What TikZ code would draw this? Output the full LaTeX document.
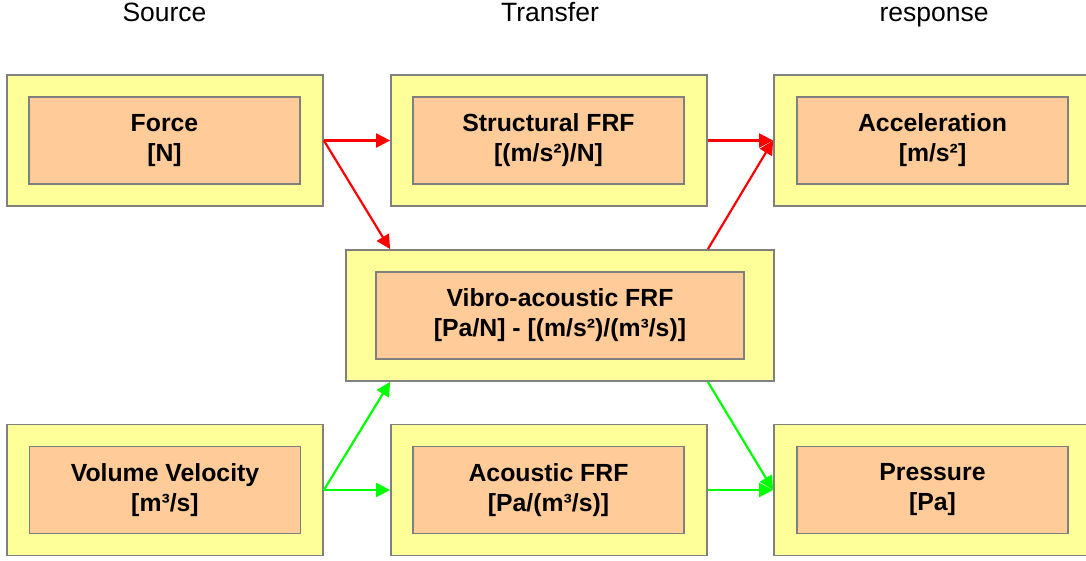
\documentclass[tikz,border=0pt]{standalone}
\usepackage{fontspec}
\setmainfont{Liberation Sans}
\usetikzlibrary{arrows.meta}
\definecolor{paleyellow}{HTML}{FFFF99}
\definecolor{peach}{HTML}{FFCC99}
\definecolor{frame}{HTML}{808080}
\begin{document}
\begin{tikzpicture}[x=1pt,y=-1pt,
  outerbox/.style={draw=frame, line width=1.8pt, fill=paleyellow, inner sep=0pt,
                   minimum width=316pt, minimum height=131pt},
  innerbox/.style={draw=frame, line width=1.8pt, fill=peach, inner sep=0pt,
                   minimum width=271pt, minimum height=87pt, align=center,
                   font=\fontsize{24.8}{30}\selectfont\bfseries},
  header/.style={anchor=base, font=\fontsize{26.5}{30}\selectfont},
  flow/.style={line width=2.2pt, -{Triangle[length=14pt,width=14pt]}},
  mech/.style={flow, draw=red, fill=red},
  acou/.style={flow, draw=green, fill=green}]
\useasboundingbox (0,0) rectangle (1086,560);

% column headings
\node[header] (hsrc) at (164.5,21) {Source};
\node[header] (htrf) at (550,21) {Transfer};
\node[header] (hrsp) at (934,21) {response};

% top row: structural path
\node[outerbox] (force)  at (165,140.5) {};
\node[innerbox] (forceT) at (164.5,140.5) {Force\\{[N]}};
\node[outerbox] (struct)  at (549,140.5) {};
\node[innerbox] (structT) at (548.5,140.5) {Structural FRF\\{[(m/s²)/N]}};
\node[outerbox] (accel)  at (932,140.5) {};
\node[innerbox] (accelT) at (932.5,140.5) {Acceleration\\{[m/s²]}};

% middle: vibro-acoustic transfer
\node[outerbox, minimum width=428pt] (vibro) at (560,315.5) {};
\node[innerbox, minimum width=368pt] (vibroT) at (560,315.5)
  {Vibro-acoustic FRF\\{[Pa/N] - [(m/s²)/(m³/s)]}};

% bottom row: acoustic path
\node[outerbox] (volvel)  at (165,490) {};
\node[innerbox] (volvelT) at (165,490) {Volume Velocity\\{[m³/s]}};
\node[outerbox] (acoustic)  at (549,490) {};
\node[innerbox] (acousticT) at (548.5,490) {Acoustic FRF\\{[Pa/(m³/s)]}};
\node[outerbox] (press)  at (932,490) {};
\node[innerbox] (pressT) at (932.5,490) {Pressure\\{[Pa]}};

% structural excitation
\draw[mech] (force.east) -- (struct.west);
\draw[mech] (force.east) -- (struct.west |- vibro.north);
\draw[mech] (struct.east) -- (accel.west);
\draw[mech] (struct.east |- vibro.north) -- (accel.west);

% acoustic excitation
\draw[acou] (volvel.east) -- (acoustic.west |- vibro.south);
\draw[acou] (volvel.east) -- (acoustic.west);
\draw[acou] (acoustic.east |- vibro.south) -- (press.west);
\draw[acou] (acoustic.east) -- (press.west);
\end{tikzpicture}
\end{document}
